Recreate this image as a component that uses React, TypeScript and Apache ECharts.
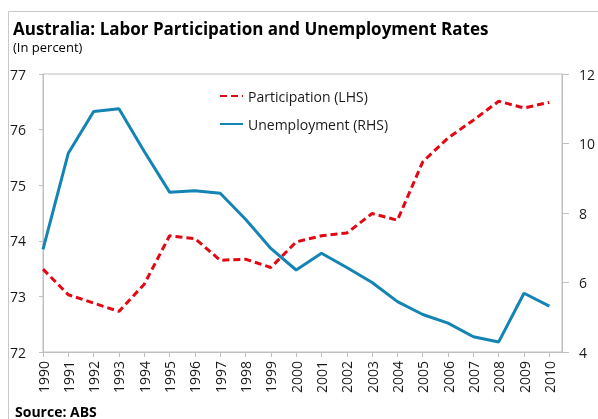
import React, { useEffect, useRef } from "react";
import * as echarts from "echarts";

const years = [1990, 1991, 1992, 1993, 1994, 1995, 1996, 1997, 1998, 1999, 2000, 2001, 2002, 2003, 2004, 2005, 2006, 2007, 2008, 2009, 2010];
const participation = [73.49, 73.03, 72.88, 72.73, 73.22, 74.09, 74.04, 73.65, 73.67, 73.52, 73.98, 74.09, 74.14, 74.49, 74.37, 75.42, 75.85, 76.17, 76.51, 76.39, 76.49];
const unemployment = [6.95, 9.72, 10.92, 11.0, 9.77, 8.6, 8.64, 8.57, 7.82, 6.98, 6.36, 6.84, 6.43, 6.0, 5.45, 5.08, 4.83, 4.44, 4.29, 5.69, 5.32];
const leftTicks = { min: 72, max: 77, interval: 1 };
const rightTicks = { min: 4, max: 12, interval: 2 };

const FONT = "'Open Sans', 'Noto Sans', sans-serif";
const RED = "#e30613";
const BLUE = "#1384b3";
const AXIS = "#bfbfbf";
const TXT = "#1a1a1a";

export default function App() {
  const ref = useRef<HTMLDivElement>(null);
  useEffect(() => {
    if (!ref.current) return;
    const chart = echarts.init(ref.current, undefined, { renderer: "svg" });
    chart.setOption({
      animation: false,
      textStyle: { fontFamily: FONT },
      grid: { left: 43, right: 29, top: 74, bottom: 67, show: true, borderColor: AXIS, borderWidth: 1, containLabel: false },
      legend: {
        orient: "vertical",
        left: 219,
        top: 89,
        itemWidth: 23,
        itemHeight: 14,
        itemGap: 14,
        padding: 0,
        itemStyle: { opacity: 0 },
        textStyle: { fontSize: 14, color: TXT, fontFamily: FONT },
        data: ["Participation (LHS)", "Unemployment (RHS)"],
      },
      xAxis: {
        type: "value",
        min: years[0],
        max: years[years.length - 1] + 0.5,
        interval: 1,
        axisLine: { lineStyle: { color: AXIS } },
        axisTick: { show: true, length: 5, lineStyle: { color: AXIS } },
        splitLine: { show: false },
        axisLabel: {
          rotate: 90,
          margin: 9,
          fontSize: 14,
          color: TXT,
          fontFamily: FONT,
          showMaxLabel: false,
          formatter: (v: number) => (Number.isInteger(v) ? String(v) : ""),
        },
      },
      yAxis: [
        {
          type: "value",
          position: "left",
          ...leftTicks,
          axisLine: { show: true, lineStyle: { color: AXIS } },
          axisTick: { show: true, length: 4, lineStyle: { color: AXIS } },
          splitLine: { show: false },
          axisLabel: { margin: 17, fontSize: 14, color: TXT, fontFamily: FONT },
        },
        {
          type: "value",
          position: "right",
          ...rightTicks,
          axisLine: { show: true, lineStyle: { color: AXIS } },
          axisTick: { show: true, length: 7, lineStyle: { color: AXIS } },
          splitLine: { show: false },
          axisLabel: { margin: 17, fontSize: 14, color: TXT, fontFamily: FONT },
        },
      ],
      series: [
        {
          name: "Participation (LHS)",
          type: "line",
          yAxisIndex: 0,
          data: years.map((y, i) => [y, participation[i]]),
          symbol: "none",
          lineStyle: { color: RED, width: 3, type: [7, 4] },
          itemStyle: { color: RED },
        },
        {
          name: "Unemployment (RHS)",
          type: "line",
          yAxisIndex: 1,
          data: years.map((y, i) => [y, unemployment[i]]),
          symbol: "none",
          lineStyle: { color: BLUE, width: 3 },
          itemStyle: { color: BLUE },
        },
      ],
      graphic: [
        {
          type: "rect",
          shape: { x: 8.5, y: 11.5, width: 700, height: 500 },
          style: { fill: "none", stroke: "#c8c8c8", lineWidth: 1 },
          silent: true,
        },
        {
          type: "text",
          x: 13,
          y: 28,
          style: { text: "Australia: Labor Participation and Unemployment Rates", font: `bold 17px ${FONT}`, fill: "#000", verticalAlign: "middle" },
        },
        {
          type: "text",
          x: 13,
          y: 47,
          style: { text: "(In percent)", font: `13px ${FONT}`, fill: "#000", verticalAlign: "middle" },
        },
        {
          type: "text",
          x: 15,
          y: 411,
          style: { text: "Source: ABS", font: `bold 14px ${FONT}`, fill: "#000", verticalAlign: "middle" },
        },
      ],
    });
    return () => chart.dispose();
  }, []);
  return <div ref={ref} style={{ position: "fixed", left: 0, top: 0, width: 598, height: 419 }} />;
}
